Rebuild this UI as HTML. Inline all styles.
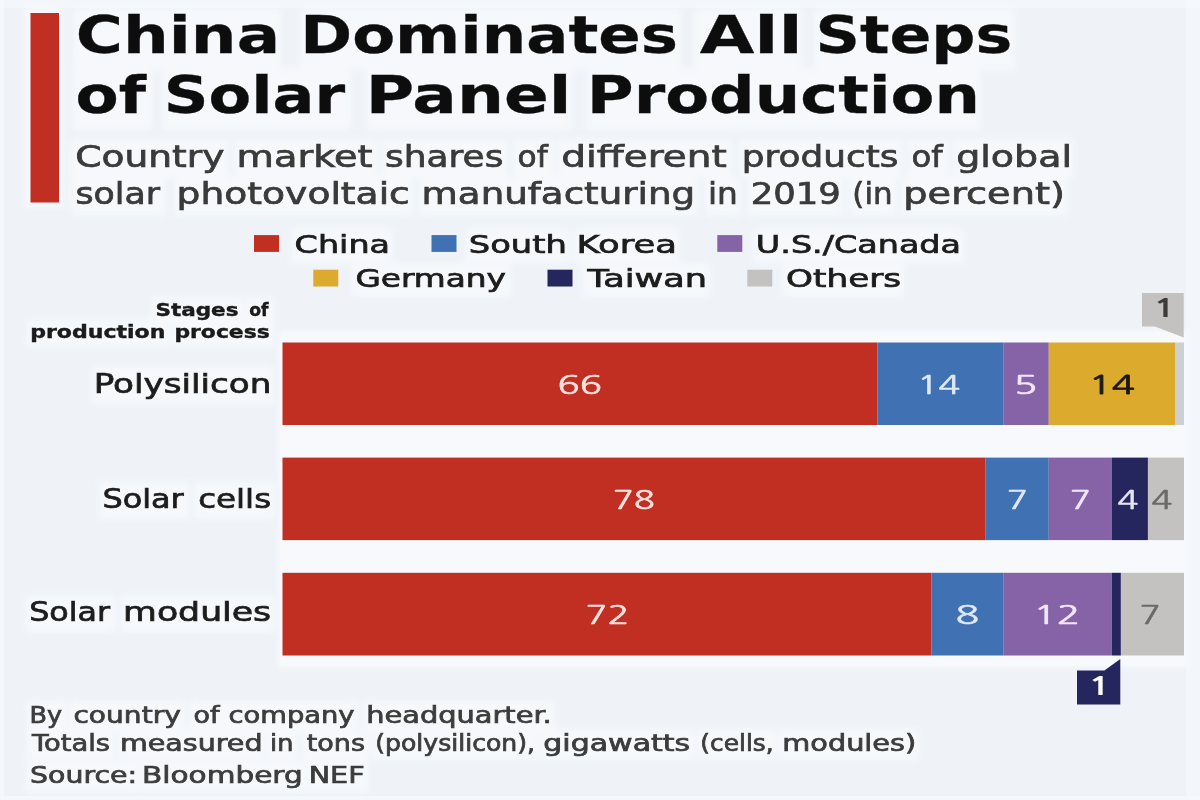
<!DOCTYPE html>
<html lang="en">
<head>
<meta charset="utf-8">
<title>China Dominates All Steps of Solar Panel Production</title>
<style>
html,body{margin:0;padding:0;background:#eff3f8;}
body{width:1200px;height:800px;overflow:hidden;}
svg{display:block;font-family:'DejaVu Sans','Liberation Sans',sans-serif;}
</style>
</head>
<body>
<svg width="1200" height="800" viewBox="0 0 1200 800">
<defs><filter id="soft" x="0" y="0" width="1200" height="800" filterUnits="userSpaceOnUse"><feGaussianBlur stdDeviation="0.55"/></filter><filter id="b3" x="0" y="0" width="1200" height="800" filterUnits="userSpaceOnUse"><feGaussianBlur stdDeviation="3"/></filter><filter id="b2" x="-5%" y="-5%" width="110%" height="110%"><feGaussianBlur stdDeviation="2"/></filter></defs>
<rect width="1200" height="800" fill="#eff3f8"/>
<rect x="0" y="0" width="1200" height="8" fill="#f5f8fc" opacity="0.7"/>
<rect x="1186" y="0" width="14" height="800" fill="#f5f8fc" opacity="0.7"/>
<rect x="0" y="0" width="4" height="800" fill="#f7f9fc" opacity="0.7"/>
<rect x="0" y="796" width="1200" height="4" fill="#f7f9fc" opacity="0.7"/>
<g filter="url(#b3)" fill="#fbfcfe" opacity="0.6">
<rect x="74.0" y="9.2" width="206.0" height="60.5"/>
<rect x="301.0" y="9.2" width="379.0" height="60.5"/>
<rect x="695.0" y="9.2" width="106.7" height="60.5"/>
<rect x="815.0" y="9.2" width="199.3" height="60.5"/>
<rect x="73.3" y="69.2" width="78.4" height="60.5"/>
<rect x="163.3" y="69.2" width="186.7" height="60.5"/>
<rect x="366.7" y="69.2" width="204.3" height="60.5"/>
<rect x="587.7" y="69.2" width="392.3" height="60.5"/>
<rect x="72.3" y="139.7" width="156.0" height="38.4"/>
<rect x="235.0" y="139.7" width="141.7" height="38.4"/>
<rect x="382.0" y="139.7" width="124.7" height="38.4"/>
<rect x="514.3" y="139.7" width="39.0" height="38.4"/>
<rect x="558.3" y="139.7" width="172.7" height="38.4"/>
<rect x="740.0" y="139.7" width="161.7" height="38.4"/>
<rect x="908.3" y="139.7" width="40.0" height="38.4"/>
<rect x="953.3" y="139.7" width="120.2" height="38.4"/>
<rect x="72.3" y="177.1" width="92.7" height="38.4"/>
<rect x="175.0" y="177.1" width="237.5" height="38.4"/>
<rect x="420.0" y="177.1" width="276.7" height="38.4"/>
<rect x="706.0" y="177.1" width="34.0" height="38.4"/>
<rect x="748.3" y="177.1" width="95.0" height="38.4"/>
<rect x="850.0" y="177.1" width="45.0" height="38.4"/>
<rect x="901.7" y="177.1" width="165.0" height="38.4"/>
<rect x="291.5" y="229.4" width="100.5" height="33.2"/>
<rect x="466.0" y="229.4" width="103.0" height="33.2"/>
<rect x="575.0" y="229.4" width="103.8" height="33.2"/>
<rect x="753.8" y="229.4" width="209.2" height="33.2"/>
<rect x="352.3" y="263.6" width="157.7" height="33.2"/>
<rect x="582.5" y="263.6" width="126.7" height="33.2"/>
<rect x="783.0" y="263.6" width="121.5" height="33.2"/>
<rect x="152.0" y="297.9" width="90.5" height="26.0"/>
<rect x="245.0" y="297.9" width="28.8" height="26.0"/>
<rect x="27.0" y="319.9" width="141.8" height="26.0"/>
<rect x="171.2" y="319.9" width="102.5" height="26.0"/>
<rect x="92.0" y="367.4" width="181.5" height="35.8"/>
<rect x="99.5" y="482.4" width="89.2" height="35.8"/>
<rect x="195.0" y="482.4" width="79.5" height="35.8"/>
<rect x="26.2" y="595.9" width="88.8" height="35.8"/>
<rect x="121.2" y="595.9" width="153.2" height="35.8"/>
<rect x="27.0" y="701.1" width="39.2" height="31.0"/>
<rect x="70.0" y="701.1" width="115.0" height="31.0"/>
<rect x="190.0" y="701.1" width="35.0" height="31.0"/>
<rect x="225.0" y="701.1" width="133.8" height="31.0"/>
<rect x="363.8" y="701.1" width="190.0" height="31.0"/>
<rect x="27.0" y="729.2" width="86.8" height="31.0"/>
<rect x="117.5" y="729.2" width="147.5" height="31.0"/>
<rect x="267.5" y="729.2" width="28.8" height="31.0"/>
<rect x="302.5" y="729.2" width="66.2" height="31.0"/>
<rect x="372.5" y="729.2" width="165.0" height="31.0"/>
<rect x="540.0" y="729.2" width="153.8" height="31.0"/>
<rect x="697.5" y="729.2" width="78.8" height="31.0"/>
<rect x="780.0" y="729.2" width="138.8" height="31.0"/>
<rect x="27.0" y="761.4" width="111.8" height="31.0"/>
<rect x="140.0" y="761.4" width="165.0" height="31.0"/>
<rect x="306.5" y="761.4" width="61.5" height="31.0"/>
<rect x="26" y="8" width="37" height="199"/>
</g>
<g filter="url(#soft)">
<rect x="30.50" y="13.00" width="28.50" height="189.50" fill="#c12d23" />
<text y="53.00" font-size="51" font-weight="bold" fill="#111" stroke="#111" stroke-width="0.3"><tspan x="75.80" textLength="204.26" lengthAdjust="spacingAndGlyphs">China</tspan> <tspan x="300.26" textLength="377.70" lengthAdjust="spacingAndGlyphs">Dominates</tspan> <tspan x="699.66" textLength="102.97" lengthAdjust="spacingAndGlyphs">All</tspan> <tspan x="815.57" textLength="196.65" lengthAdjust="spacingAndGlyphs">Steps</tspan></text>
<text y="113.00" font-size="51" font-weight="bold" fill="#111" stroke="#111" stroke-width="0.3"><tspan x="75.60" textLength="70.55" lengthAdjust="spacingAndGlyphs">of</tspan> <tspan x="163.84" textLength="181.34" lengthAdjust="spacingAndGlyphs">Solar</tspan> <tspan x="365.68" textLength="205.82" lengthAdjust="spacingAndGlyphs">Panel</tspan> <tspan x="586.83" textLength="393.16" lengthAdjust="spacingAndGlyphs">Production</tspan></text>
<text y="166.70" font-size="29.5" font-weight="normal" fill="#3a3a3a" stroke="#3a3a3a" stroke-width="0.7"><tspan x="75.19" textLength="149.23" lengthAdjust="spacingAndGlyphs">Country</tspan> <tspan x="236.55" textLength="136.06" lengthAdjust="spacingAndGlyphs">market</tspan> <tspan x="385.06" textLength="118.38" lengthAdjust="spacingAndGlyphs">shares</tspan> <tspan x="517.58" textLength="30.13" lengthAdjust="spacingAndGlyphs">of</tspan> <tspan x="561.17" textLength="165.76" lengthAdjust="spacingAndGlyphs">different</tspan> <tspan x="741.76" textLength="156.69" lengthAdjust="spacingAndGlyphs">products</tspan> <tspan x="911.52" textLength="31.17" lengthAdjust="spacingAndGlyphs">of</tspan> <tspan x="956.20" textLength="115.86" lengthAdjust="spacingAndGlyphs">global</tspan></text>
<text y="204.10" font-size="29.5" font-weight="normal" fill="#3a3a3a" stroke="#3a3a3a" stroke-width="0.7"><tspan x="75.42" textLength="84.58" lengthAdjust="spacingAndGlyphs">solar</tspan> <tspan x="176.58" textLength="233.25" lengthAdjust="spacingAndGlyphs">photovoltaic</tspan> <tspan x="421.62" textLength="273.46" lengthAdjust="spacingAndGlyphs">manufacturing</tspan> <tspan x="707.91" textLength="29.87" lengthAdjust="spacingAndGlyphs">in</tspan> <tspan x="750.71" textLength="90.08" lengthAdjust="spacingAndGlyphs">2019</tspan> <tspan x="852.34" textLength="40.29" lengthAdjust="spacingAndGlyphs">(in</tspan> <tspan x="903.24" textLength="161.74" lengthAdjust="spacingAndGlyphs">percent)</tspan></text>
<rect x="254.00" y="235.10" width="25.00" height="16.80" fill="#c12d23" />
<text x="294.62" y="252.50" font-size="24.5" font-weight="normal" fill="#1c1c1c" stroke="#1c1c1c" stroke-width="0.7" textLength="95.41" lengthAdjust="spacingAndGlyphs" >China</text>
<rect x="431.50" y="235.10" width="25.00" height="16.80" fill="#4171b3" />
<text y="252.50" font-size="24.5" font-weight="normal" fill="#1c1c1c" stroke="#1c1c1c" stroke-width="0.7"><tspan x="468.78" textLength="98.09" lengthAdjust="spacingAndGlyphs">South</tspan> <tspan x="576.61" textLength="100.27" lengthAdjust="spacingAndGlyphs">Korea</tspan></text>
<rect x="717.30" y="235.10" width="25.00" height="16.80" fill="#8662a6" />
<text x="755.85" y="252.50" font-size="24.5" font-weight="normal" fill="#1c1c1c" stroke="#1c1c1c" stroke-width="0.7" textLength="205.19" lengthAdjust="spacingAndGlyphs" >U.S./Canada</text>
<rect x="313.30" y="269.70" width="25.00" height="16.80" fill="#dcab2e" />
<text x="355.47" y="286.70" font-size="24.5" font-weight="normal" fill="#1c1c1c" stroke="#1c1c1c" stroke-width="0.7" textLength="150.50" lengthAdjust="spacingAndGlyphs" >Germany</text>
<rect x="547.50" y="269.70" width="25.00" height="16.80" fill="#27275f" />
<text x="587.60" y="286.70" font-size="24.5" font-weight="normal" fill="#1c1c1c" stroke="#1c1c1c" stroke-width="0.7" textLength="119.45" lengthAdjust="spacingAndGlyphs" >Taiwan</text>
<rect x="747.30" y="269.70" width="25.00" height="16.80" fill="#c4c2c1" />
<text x="786.08" y="286.70" font-size="24.5" font-weight="normal" fill="#1c1c1c" stroke="#1c1c1c" stroke-width="0.7" textLength="115.10" lengthAdjust="spacingAndGlyphs" >Others</text>
<text y="315.50" font-size="17.5" font-weight="bold" fill="#1a1a1a" stroke="#1a1a1a" stroke-width="0.4"><tspan x="155.46" textLength="83.06" lengthAdjust="spacingAndGlyphs">Stages</tspan> <tspan x="249.26" textLength="19.34" lengthAdjust="spacingAndGlyphs">of</tspan></text>
<text y="337.50" font-size="17.5" font-weight="bold" fill="#1a1a1a" stroke="#1a1a1a" stroke-width="0.4"><tspan x="30.15" textLength="135.33" lengthAdjust="spacingAndGlyphs">production</tspan> <tspan x="174.41" textLength="95.37" lengthAdjust="spacingAndGlyphs">process</tspan></text>
<text x="93.67" y="392.50" font-size="27" font-weight="normal" fill="#1c1c1c" stroke="#1c1c1c" stroke-width="0.7" textLength="177.72" lengthAdjust="spacingAndGlyphs" >Polysilicon</text>
<text y="507.50" font-size="27" font-weight="normal" fill="#1c1c1c" stroke="#1c1c1c" stroke-width="0.7"><tspan x="102.40" textLength="81.35" lengthAdjust="spacingAndGlyphs">Solar</tspan> <tspan x="198.21" textLength="72.88" lengthAdjust="spacingAndGlyphs">cells</tspan></text>
<text y="621.00" font-size="27" font-weight="normal" fill="#1c1c1c" stroke="#1c1c1c" stroke-width="0.7"><tspan x="29.16" textLength="80.84" lengthAdjust="spacingAndGlyphs">Solar</tspan> <tspan x="123.10" textLength="148.10" lengthAdjust="spacingAndGlyphs">modules</tspan></text>
<rect x="279" y="331" width="909" height="336" fill="#f8f9fc" filter="url(#b2)"/>
<rect x="282.50" y="342.50" width="594.99" height="82.50" fill="#c12d23" />
<text x="557.50" y="393.95" font-size="25" font-weight="normal" fill="#fde3df" stroke="#fde3df" stroke-width="0.6" textLength="44.52" lengthAdjust="spacingAndGlyphs"  font-family="NanumGothic,'Liberation Sans',sans-serif">66</text>
<rect x="877.49" y="342.50" width="126.21" height="82.50" fill="#4171b3" />
<text x="917.03" y="393.95" font-size="25" font-weight="normal" fill="#dfe9f6" stroke="#dfe9f6" stroke-width="0.6" textLength="43.24" lengthAdjust="spacingAndGlyphs"  font-family="NanumGothic,'Liberation Sans',sans-serif">14</text>
<rect x="1003.70" y="342.50" width="45.08" height="82.50" fill="#8662a6" />
<text x="1013.76" y="393.95" font-size="25" font-weight="normal" fill="#f1e6f7" stroke="#f1e6f7" stroke-width="0.6" textLength="23.85" lengthAdjust="spacingAndGlyphs"  font-family="NanumGothic,'Liberation Sans',sans-serif">5</text>
<rect x="1048.78" y="342.50" width="126.21" height="82.50" fill="#dcab2e" />
<text x="1088.72" y="393.95" font-size="25" font-weight="normal" fill="#1c1a12" stroke="#1c1a12" stroke-width="0.8" textLength="46.17" lengthAdjust="spacingAndGlyphs"  font-family="NanumGothic,'Liberation Sans',sans-serif">14</text>
<rect x="1174.99" y="342.50" width="9.02" height="82.50" fill="#cdd0d3" />
<rect x="282.50" y="457.60" width="703.17" height="82.50" fill="#c12d23" />
<text x="612.65" y="509.05" font-size="25" font-weight="normal" fill="#fde3df" stroke="#fde3df" stroke-width="0.6" textLength="42.21" lengthAdjust="spacingAndGlyphs"  font-family="NanumGothic,'Liberation Sans',sans-serif">78</text>
<rect x="985.67" y="457.60" width="63.11" height="82.50" fill="#4171b3" />
<text x="1006.77" y="509.05" font-size="25" font-weight="normal" fill="#dfe9f6" stroke="#dfe9f6" stroke-width="0.6" textLength="21.22" lengthAdjust="spacingAndGlyphs"  font-family="NanumGothic,'Liberation Sans',sans-serif">7</text>
<rect x="1048.78" y="457.60" width="63.11" height="82.50" fill="#8662a6" />
<text x="1069.88" y="509.05" font-size="25" font-weight="normal" fill="#f1e6f7" stroke="#f1e6f7" stroke-width="0.6" textLength="21.22" lengthAdjust="spacingAndGlyphs"  font-family="NanumGothic,'Liberation Sans',sans-serif">7</text>
<rect x="1111.88" y="457.60" width="36.06" height="82.50" fill="#27275f" />
<text x="1117.49" y="509.05" font-size="25" font-weight="normal" fill="#e4e4f2" stroke="#e4e4f2" stroke-width="0.6" textLength="20.80" lengthAdjust="spacingAndGlyphs"  font-family="NanumGothic,'Liberation Sans',sans-serif">4</text>
<rect x="1147.94" y="457.60" width="36.06" height="82.50" fill="#c4c2c1" />
<text x="1151.55" y="509.05" font-size="25" font-weight="normal" fill="#6a6a6a" stroke="#6a6a6a" stroke-width="0.6" textLength="20.80" lengthAdjust="spacingAndGlyphs"  font-family="NanumGothic,'Liberation Sans',sans-serif">4</text>
<rect x="282.50" y="572.80" width="649.08" height="82.70" fill="#c12d23" />
<text x="585.50" y="624.35" font-size="25" font-weight="normal" fill="#fde3df" stroke="#fde3df" stroke-width="0.6" textLength="43.95" lengthAdjust="spacingAndGlyphs"  font-family="NanumGothic,'Liberation Sans',sans-serif">72</text>
<rect x="931.58" y="572.80" width="72.12" height="82.70" fill="#4171b3" />
<text x="955.61" y="624.35" font-size="25" font-weight="normal" fill="#dfe9f6" stroke="#dfe9f6" stroke-width="0.6" textLength="23.78" lengthAdjust="spacingAndGlyphs"  font-family="NanumGothic,'Liberation Sans',sans-serif">8</text>
<rect x="1003.70" y="572.80" width="108.18" height="82.70" fill="#8662a6" />
<text x="1033.26" y="624.35" font-size="25" font-weight="normal" fill="#f1e6f7" stroke="#f1e6f7" stroke-width="0.6" textLength="47.19" lengthAdjust="spacingAndGlyphs"  font-family="NanumGothic,'Liberation Sans',sans-serif">12</text>
<rect x="1111.88" y="572.80" width="9.02" height="82.70" fill="#27275f" />
<rect x="1120.90" y="572.80" width="63.11" height="82.70" fill="#c4c2c1" />
<text x="1139.50" y="624.35" font-size="25" font-weight="normal" fill="#6a6a6a" stroke="#6a6a6a" stroke-width="0.6" textLength="21.22" lengthAdjust="spacingAndGlyphs"  font-family="NanumGothic,'Liberation Sans',sans-serif">7</text>
<path d="M1142 293 H1183.7 V337.5 L1155 326.4 H1142 Z" fill="#c4c2c1"/>
<text x="1152.40" y="316.70" font-size="24" font-weight="bold" fill="#3a3a3a" stroke="#3a3a3a" stroke-width="0" textLength="24.14" lengthAdjust="spacingAndGlyphs"  font-family="NanumGothic,'Liberation Sans',sans-serif">1</text>
<path d="M1077 670.6 H1104.4 L1120.3 659 V704.5 H1077 Z" fill="#27275f"/>
<text x="1087.40" y="695.00" font-size="24" font-weight="bold" fill="#ffffff" stroke="#ffffff" stroke-width="0" textLength="24.14" lengthAdjust="spacingAndGlyphs"  font-family="NanumGothic,'Liberation Sans',sans-serif">1</text>
<text y="722.50" font-size="22.3" font-weight="normal" fill="#3c3c3c" stroke="#3c3c3c" stroke-width="0.7"><tspan x="29.50" textLength="32.50" lengthAdjust="spacingAndGlyphs">By</tspan> <tspan x="73.45" textLength="107.39" lengthAdjust="spacingAndGlyphs">country</tspan> <tspan x="193.51" textLength="25.97" lengthAdjust="spacingAndGlyphs">of</tspan> <tspan x="228.49" textLength="126.07" lengthAdjust="spacingAndGlyphs">company</tspan> <tspan x="366.17" textLength="185.65" lengthAdjust="spacingAndGlyphs">headquarter.</tspan></text>
<text y="750.60" font-size="22.3" font-weight="normal" fill="#3c3c3c" stroke="#3c3c3c" stroke-width="0.7"><tspan x="32.08" textLength="77.93" lengthAdjust="spacingAndGlyphs">Totals</tspan> <tspan x="119.92" textLength="142.66" lengthAdjust="spacingAndGlyphs">measured</tspan> <tspan x="270.09" textLength="23.34" lengthAdjust="spacingAndGlyphs">in</tspan> <tspan x="306.77" textLength="58.29" lengthAdjust="spacingAndGlyphs">tons</tspan> <tspan x="375.34" textLength="159.60" lengthAdjust="spacingAndGlyphs">(polysilicon),</tspan> <tspan x="543.34" textLength="146.87" lengthAdjust="spacingAndGlyphs">gigawatts</tspan> <tspan x="700.36" textLength="73.31" lengthAdjust="spacingAndGlyphs">(cells,</tspan> <tspan x="782.39" textLength="133.83" lengthAdjust="spacingAndGlyphs">modules)</tspan></text>
<text y="782.80" font-size="22.3" font-weight="normal" fill="#3c3c3c" stroke="#3c3c3c" stroke-width="0.7"><tspan x="30.14" textLength="106.90" lengthAdjust="spacingAndGlyphs">Source:</tspan> <tspan x="142.11" textLength="160.56" lengthAdjust="spacingAndGlyphs">Bloomberg</tspan> <tspan x="308.69" textLength="55.97" lengthAdjust="spacingAndGlyphs">NEF</tspan></text>
</g>
</svg>
</body>
</html>
